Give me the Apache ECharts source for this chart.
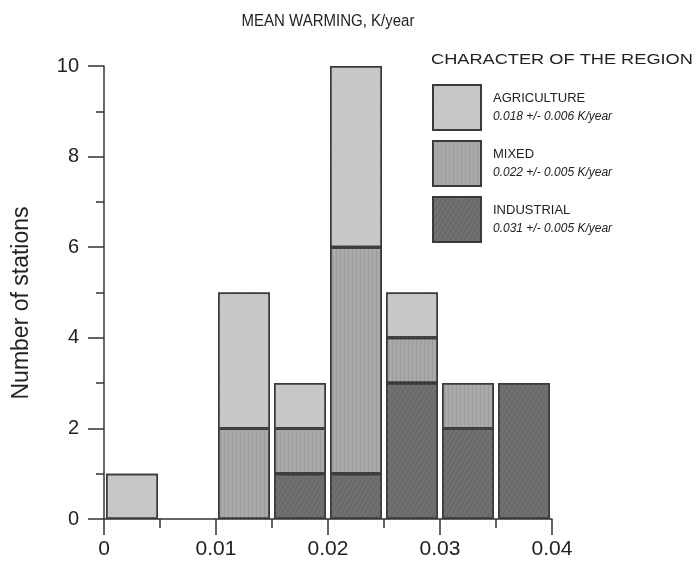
<!DOCTYPE html>
<html>
<head>
<meta charset="utf-8">
<script src="https://cdn.jsdelivr.net/npm/echarts@6/dist/echarts.min.js"></script>
<style>
  html, body { margin: 0; padding: 0; background: #fff; }
  #chart { width: 696px; height: 571px; }
</style>
</head>
<body>
<div id="chart"></div>
<script>
// histogram bins of mean warming, K/year (width 0.005, from 0 to 0.04)
const bins = ['0-0.005', '0.005-0.01', '0.01-0.015', '0.015-0.02',
              '0.02-0.025', '0.025-0.03', '0.03-0.035', '0.035-0.04'];
// number of stations per bin ('-' = empty)
const industrial  = ['-', '-', '-', 1, 1, 3, 2, 3];
const mixed       = ['-', '-', 2, 1, 5, 1, 1, '-'];
const agriculture = [1, '-', 3, 1, 4, 1, '-', '-'];

const names = ['AGRICULTURE', 'MIXED', 'INDUSTRIAL'];
const stats = {
  AGRICULTURE: '0.018 +/- 0.006 K/year',
  MIXED: '0.022 +/- 0.005 K/year',
  INDUSTRIAL: '0.031 +/- 0.005 K/year'
};
const fills = { AGRICULTURE: '#c6c6c6', MIXED: '#a9a9a9', INDUSTRIAL: '#717171' };
const decals = {
  AGRICULTURE: { symbol: 'rect', symbolSize: 1, dashArrayX: [1, 3], dashArrayY: [1, 3], color: 'rgba(255,255,255,0.15)' },
  MIXED: { symbol: 'rect', symbolSize: 1, dashArrayX: [1, 3], dashArrayY: [4, 0], color: 'rgba(0,0,0,0.07)' },
  INDUSTRIAL: { symbol: 'rect', symbolSize: 1, dashArrayX: [1, 3], dashArrayY: [4, 0], color: 'rgba(0,0,0,0.12)' }
};

const chart = echarts.init(document.getElementById('chart'));
const font = 'Liberation Sans, Arial, sans-serif';

const barSeries = (name, vals) => ({
  name: name,
  type: 'bar',
  stack: 'total',
  xAxisIndex: 0,
  barWidth: 52,
  data: vals,
  itemStyle: {
    color: fills[name],
    borderColor: '#3a3a3a',
    borderWidth: 1.5,
    decal: decals[name]
  },
  emphasis: { disabled: true }
});

const axisColor = '#333';

const option = {
  backgroundColor: '#fff',
  animation: false,
  aria: { enabled: true, decal: { show: true } },
  grid: { left: 104, right: 144, top: 66, bottom: 52 },
  graphic: [
    {
      type: 'text', x: 328, y: 13, scaleY: 1.1,
      style: { text: 'MEAN WARMING, K/year', font: '15px ' + font, fill: '#222', textAlign: 'center' }
    },
    {
      type: 'text', x: 431, y: 53, scaleX: 1.3,
      style: { text: 'CHARACTER OF THE REGION', font: '14px ' + font, fill: '#222' }
    },
    {
      type: 'text', x: 22, y: 303, rotation: Math.PI / 2,
      style: { text: 'Number of stations', font: '23px ' + font, fill: '#222', textAlign: 'center', textVerticalAlign: 'middle' }
    }
  ],
  legend: {
    orient: 'vertical',
    left: 432,
    top: 84,
    padding: 0,
    itemWidth: 48,
    itemHeight: 45,
    itemGap: 9,
    icon: 'rect',
    selectedMode: false,
    data: names,
    formatter: (name) => '{t|' + name + '}\n{s|' + stats[name] + '}',
    textStyle: {
      rich: {
        t: { fontFamily: font, fontSize: 13, color: '#222', padding: [0, 0, 3, 7], lineHeight: 18 },
        s: { fontFamily: font, fontSize: 12, fontStyle: 'italic', color: '#222', padding: [0, 0, 0, 7], lineHeight: 16 }
      }
    }
  },
  xAxis: [
    {
      // bins for the bars, hidden
      type: 'category',
      data: bins,
      show: false
    },
    {
      // visible value scale
      type: 'value',
      position: 'bottom',
      min: 0,
      max: 0.04,
      interval: 0.01,
      axisLine: { show: true, lineStyle: { color: axisColor, width: 1.5 } },
      axisTick: { show: true, length: 16, lineStyle: { color: axisColor, width: 1.5 } },
      minorTick: { show: true, splitNumber: 2, length: 9, lineStyle: { color: axisColor, width: 1.5 } },
      splitLine: { show: false },
      axisLabel: {
        margin: 20, fontFamily: font, fontSize: 21, color: '#222',
        formatter: (v) => String(+v.toFixed(3))
      }
    }
  ],
  yAxis: {
    type: 'value',
    min: 0,
    max: 10,
    interval: 2,
    axisLine: { show: true, lineStyle: { color: axisColor, width: 1.5 } },
    axisTick: { show: true, length: 16, lineStyle: { color: axisColor, width: 1.5 } },
    minorTick: { show: true, splitNumber: 2, length: 8, lineStyle: { color: axisColor, width: 1.5 } },
    splitLine: { show: false },
    axisLabel: { margin: 25, fontFamily: font, fontSize: 20, color: '#222' }
  },
  series: [
    barSeries('INDUSTRIAL', industrial),
    barSeries('MIXED', mixed),
    barSeries('AGRICULTURE', agriculture)
  ]
};

chart.setOption(option);
</script>
</body>
</html>
